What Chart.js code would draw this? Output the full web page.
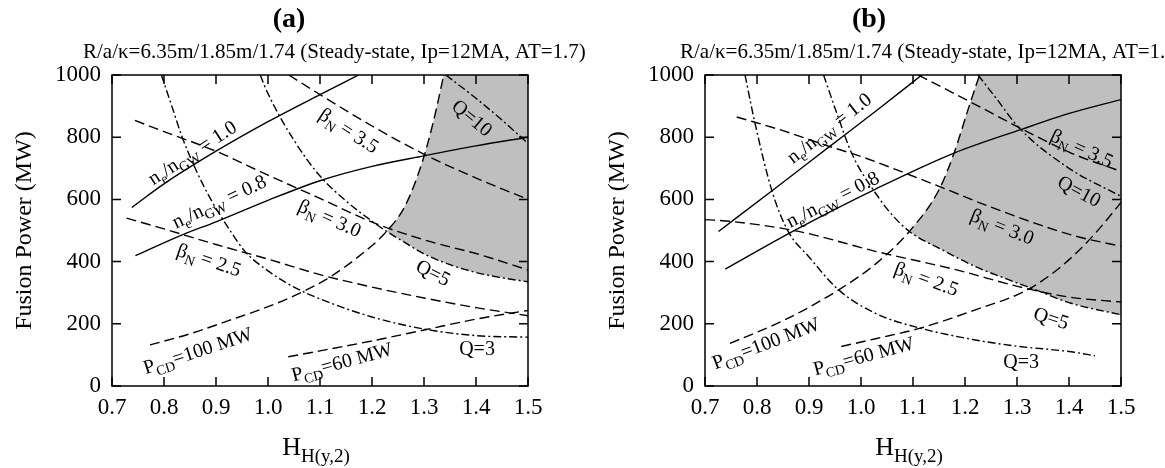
<!DOCTYPE html>
<html>
<head>
<meta charset="utf-8">
<script src="https://cdn.jsdelivr.net/npm/chart.js@4.4.0/dist/chart.umd.min.js"></script>
<style>
  html, body { margin: 0; padding: 0; background: #fff; overflow: hidden; }
  #wrap { position: relative; width: 1165px; height: 468px; overflow: hidden; }
  .panel { position: absolute; top: 0; width: 593px; height: 468px; }
</style>
</head>
<body>
<div id="wrap">
  <div class="panel" style="left:0"><canvas id="chartA" width="593" height="468"></canvas></div>
  <div class="panel" style="left:593px"><canvas id="chartB" width="593" height="468"></canvas></div>
</div>
<script>
'use strict';

/* ========================================================
   Axis ticks
   ======================================================== */
const H_TICKS = [0.7, 0.8, 0.9, 1.0, 1.1, 1.2, 1.3, 1.4, 1.5];
const P_TICKS = [0, 200, 400, 600, 800, 1000];

/* ========================================================
   (a) AT=1.7 — curves as [H_H(y,2), fusion power MW]
   ======================================================== */
const A_NE10   = [[0.738, 574], [0.80, 650], [0.90, 755], [1.00, 850], [1.10, 937], [1.174, 1000]];
const A_NE08   = [[0.745, 419], [0.835, 486], [0.90, 528], [1.00, 597], [1.10, 660], [1.20, 706], [1.30, 740], [1.40, 772], [1.50, 800]];
const A_BN35   = [[1.04, 1000], [1.10, 937], [1.20, 836], [1.305, 741], [1.408, 663], [1.50, 600]];
const A_BN30   = [[0.744, 854], [0.80, 818], [0.90, 755], [1.00, 678], [1.10, 603], [1.20, 527], [1.30, 470], [1.408, 422], [1.50, 373]];
const A_BN25   = [[0.728, 540], [0.80, 505], [0.90, 455], [1.00, 408], [1.10, 358], [1.20, 318], [1.30, 283], [1.40, 252], [1.50, 226]];
const A_PCD100 = [[0.773, 132], [0.85, 168], [0.924, 210], [1.00, 255], [1.05, 290], [1.116, 347], [1.174, 416], [1.228, 497], [1.263, 577], [1.296, 717], [1.318, 850], [1.338, 1000]];
const A_PCD60  = [[1.039, 94], [1.10, 113], [1.20, 145], [1.30, 180], [1.40, 215], [1.50, 243]];
const A_Q3     = [[0.795, 1000], [0.815, 900], [0.835, 800], [0.86, 700], [0.89, 600], [0.927, 500], [0.956, 432], [1.00, 370], [1.05, 318], [1.10, 280], [1.20, 222], [1.30, 183], [1.40, 162], [1.50, 157]];
const A_Q5     = [[0.985, 1000], [1.00, 940], [1.05, 790], [1.10, 675], [1.15, 595], [1.20, 530], [1.228, 497], [1.25, 475], [1.30, 425], [1.35, 390], [1.40, 365], [1.45, 348], [1.50, 335]];
const A_Q10    = [[1.342, 1000], [1.40, 925], [1.45, 855], [1.50, 780]];

/* ========================================================
   (b) AT=1.6
   ======================================================== */
const B_NE10   = [[0.726, 497], [0.829, 628], [0.938, 768], [1.03, 886], [1.117, 1000]];
const B_NE08   = [[0.739, 376], [0.866, 495], [1.03, 635], [1.179, 749], [1.31, 826], [1.404, 878], [1.50, 921]];
const B_BN35   = [[1.11, 1000], [1.22, 905], [1.31, 826], [1.404, 749], [1.50, 690]];
const B_BN30   = [[0.761, 865], [0.85, 821], [0.938, 771], [1.00, 738], [1.092, 680], [1.15, 642], [1.25, 575], [1.404, 486], [1.50, 449]];
const B_BN25   = [[0.70, 535], [0.751, 529], [0.88, 497], [1.028, 433], [1.182, 374], [1.314, 315], [1.404, 285], [1.50, 270]];
const B_PCD100 = [[0.748, 137], [0.854, 213], [0.957, 309], [1.03, 395], [1.093, 497], [1.15, 631], [1.179, 749], [1.208, 900], [1.228, 1000]];
const B_PCD60  = [[0.962, 127], [1.028, 152], [1.114, 186], [1.22, 245], [1.314, 304], [1.36, 352], [1.404, 412], [1.45, 490], [1.50, 590]];
const B_Q3     = [[0.777, 1000], [0.796, 846], [0.829, 626], [0.86, 497], [0.90, 415], [0.957, 309], [1.03, 232], [1.114, 186], [1.22, 148], [1.30, 128], [1.404, 110], [1.45, 97]];
const B_Q5     = [[0.928, 1000], [0.955, 870], [0.983, 745], [1.03, 615], [1.06, 550], [1.093, 497], [1.156, 438], [1.22, 384], [1.285, 341], [1.336, 309], [1.404, 266], [1.50, 229]];
const B_Q10    = [[1.225, 1000], [1.26, 925], [1.304, 830], [1.40, 700], [1.50, 610]];

/* ========================================================
   Styles
   ======================================================== */
const FONT = '"Liberation Serif", "Times New Roman", serif';
const SOLID = [];
const DASH = [10, 5];
const DASHDOT = [8, 3, 2, 3];
const SHADE = '#bfbfbf';
const TICK = 9;

const curve = (pts, dash, extra) => Object.assign({
  data: pts.map(([x, y]) => ({ x, y })),
  borderColor: '#000',
  borderWidth: 1.4,
  borderDash: dash,
  pointRadius: 0,
  fill: false,
  cubicInterpolationMode: 'monotone'
}, extra || {});

// text with subscripts: parts = [[text, isSub], ...]
function drawRich(ctx, parts, x, y, rot, size) {
  const subSize = Math.round(size * 0.7);
  const fontOf = s => `${s ? subSize : size}px ${FONT}`;
  let w = 0;
  parts.forEach(([t, s]) => { ctx.font = fontOf(s); w += ctx.measureText(t).width; });
  ctx.save();
  ctx.translate(x, y);
  ctx.rotate(rot * Math.PI / 180);
  ctx.textBaseline = 'alphabetic';
  ctx.textAlign = 'left';
  ctx.fillStyle = '#000';
  let cx = -w / 2;
  const base = size * 0.33;
  parts.forEach(([t, s]) => {
    ctx.font = fontOf(s);
    ctx.fillText(t, cx, s ? base + size * 0.25 : base);
    cx += ctx.measureText(t).width;
  });
  ctx.restore();
}

/* frame with inward ticks on all four sides */
const framePlugin = {
  id: 'frame',
  afterDatasetsDraw(chart) {
    const { ctx, chartArea: { left, right, top, bottom }, scales: { x, y } } = chart;
    ctx.save();
    ctx.strokeStyle = '#000';
    ctx.lineWidth = 1.5;
    ctx.setLineDash([]);
    ctx.strokeRect(left, top, right - left, bottom - top);
    ctx.beginPath();
    H_TICKS.forEach(v => {
      const px = x.getPixelForValue(v);
      ctx.moveTo(px, bottom); ctx.lineTo(px, bottom - TICK);
      ctx.moveTo(px, top); ctx.lineTo(px, top + TICK);
    });
    P_TICKS.forEach(v => {
      const py = y.getPixelForValue(v);
      ctx.moveTo(left, py); ctx.lineTo(left + TICK, py);
      ctx.moveTo(right, py); ctx.lineTo(right - TICK, py);
    });
    ctx.stroke();
    ctx.restore();
  }
};

/* curve labels, panel heading and x-axis title */
const textPlugin = (labels, head) => ({
  id: 'curveText',
  afterDraw(chart) {
    const { ctx, chartArea, scales: { x, y } } = chart;
    labels.forEach(l => drawRich(ctx, l.parts, x.getPixelForValue(l.at[0]), y.getPixelForValue(l.at[1]), l.rot, 20));

    ctx.save();
    ctx.fillStyle = '#000';
    ctx.textBaseline = 'alphabetic';
    ctx.textAlign = 'center';
    ctx.font = `bold 28px ${FONT}`;
    ctx.fillText(head.tag, head.tagX, 27);
    ctx.textAlign = 'left';
    ctx.font = `21px ${FONT}`;
    ctx.fillText(head.sub, head.subX, 58);
    ctx.restore();

    const cx = (chartArea.left + chartArea.right) / 2 - 4;
    ctx.save();
    ctx.fillStyle = '#000';
    ctx.textBaseline = 'alphabetic';
    ctx.font = `26px ${FONT}`;
    const wH = ctx.measureText('H').width;
    ctx.font = `19px ${FONT}`;
    const wS = ctx.measureText('H(y,2)').width;
    const x0 = cx - (wH + wS) / 2;
    ctx.font = `26px ${FONT}`;
    ctx.fillText('H', x0, 455);
    ctx.font = `19px ${FONT}`;
    ctx.fillText('H(y,2)', x0 + wH, 462);
    ctx.restore();
  }
});

const neLabel = v => [['n'], ['e', 1], ['/n'], ['GW', 1], [' = ' + v]];
const bnLabel = v => [['\u03b2'], ['N', 1], [' = ' + v]];
const pcdLabel = v => [['P'], ['CD', 1], ['=' + v + ' MW']];

const A_LABELS = [
  { parts: neLabel('1.0'), at: [0.854, 751], rot: -33 },
  { parts: neLabel('0.8'), at: [0.906, 594], rot: -25 },
  { parts: bnLabel('3.5'), at: [1.156, 822], rot: 33 },
  { parts: bnLabel('3.0'), at: [1.119, 540], rot: 24 },
  { parts: bnLabel('2.5'), at: [0.887, 406], rot: 19 },
  { parts: pcdLabel('100'), at: [0.865, 114], rot: -18 },
  { parts: pcdLabel('60'), at: [1.142, 78], rot: -15 },
  { parts: [['Q=3']], at: [1.402, 120], rot: 0 },
  { parts: [['Q=5']], at: [1.318, 365], rot: 27 },
  { parts: [['Q=10']], at: [1.393, 863], rot: 40 }
];

const B_LABELS = [
  { parts: neLabel('1.0'), at: [0.938, 830], rot: -38 },
  { parts: neLabel('0.8'), at: [0.945, 601], rot: -27 },
  { parts: bnLabel('3.5'), at: [1.425, 765], rot: 25 },
  { parts: bnLabel('3.0'), at: [1.272, 513], rot: 22 },
  { parts: bnLabel('2.5'), at: [1.126, 345], rot: 20 },
  { parts: pcdLabel('100'), at: [0.817, 138], rot: -21 },
  { parts: pcdLabel('60'), at: [1.005, 97], rot: -15 },
  { parts: [['Q=3']], at: [1.308, 78], rot: 0 },
  { parts: [['Q=5']], at: [1.366, 219], rot: 18 },
  { parts: [['Q=10']], at: [1.42, 627], rot: 28 }
];

function makeChart(id, c, labels, head) {
  // Q=5 carries the shaded fill (drawn first), P_CD=100 clears the part left of it
  const datasets = [
    curve(c.ne10, SOLID),
    curve(c.ne08, SOLID),
    curve(c.bn35, DASH),
    curve(c.bn30, DASH),
    curve(c.bn25, DASH),
    curve(c.pcd100, DASH, { fill: 'end', backgroundColor: '#fff' }),
    curve(c.pcd60, DASH),
    curve(c.q3, DASHDOT),
    curve(c.q10, DASHDOT),
    curve(c.q5, DASHDOT, { fill: 'end', backgroundColor: SHADE })
  ];

  const tickFont = { family: FONT, size: 23 };
  return new Chart(document.getElementById(id), {
    type: 'line',
    data: { datasets },
    options: {
      responsive: false,
      animation: false,
      events: [],
      layout: { padding: { left: 0, top: 75, right: 65, bottom: 0 } },
      plugins: {
        legend: { display: false },
        tooltip: { enabled: false },
        filler: { drawTime: 'beforeDatasetsDraw' }
      },
      scales: {
        x: {
          type: 'linear', min: 0.7, max: 1.5,
          afterBuildTicks: s => { s.ticks = H_TICKS.map(v => ({ value: v })); },
          afterFit: s => { s.height = 82; },
          grid: { display: false, drawTicks: false },
          border: { display: false },
          ticks: { padding: 8, font: tickFont, color: '#000', maxRotation: 0, autoSkip: false, callback: v => v.toFixed(1) }
        },
        y: {
          type: 'linear', min: 0, max: 1000,
          afterBuildTicks: s => { s.ticks = P_TICKS.map(v => ({ value: v })); },
          afterFit: s => { s.width = 112; },
          grid: { display: false, drawTicks: false },
          border: { display: false },
          ticks: { padding: 11, font: tickFont, color: '#000', callback: v => String(v) },
          title: { display: true, text: 'Fusion Power (MW)', color: '#000', font: { family: FONT, size: 24 }, padding: { top: 10 } }
        }
      }
    },
    plugins: [framePlugin, textPlugin(labels, head)]
  });
}

makeChart('chartA', {
  ne10: A_NE10, ne08: A_NE08, bn35: A_BN35, bn30: A_BN30, bn25: A_BN25,
  pcd100: A_PCD100, pcd60: A_PCD60, q3: A_Q3, q5: A_Q5, q10: A_Q10
}, A_LABELS, { tag: '(a)', tagX: 289, sub: 'R/a/\u03ba=6.35m/1.85m/1.74 (Steady-state, Ip=12MA, AT=1.7)', subX: 83 });

makeChart('chartB', {
  ne10: B_NE10, ne08: B_NE08, bn35: B_BN35, bn30: B_BN30, bn25: B_BN25,
  pcd100: B_PCD100, pcd60: B_PCD60, q3: B_Q3, q5: B_Q5, q10: B_Q10
}, B_LABELS, { tag: '(b)', tagX: 276, sub: 'R/a/\u03ba=6.35m/1.85m/1.74 (Steady-state, Ip=12MA, AT=1.6)', subX: 87 });
</script>
</body>
</html>
